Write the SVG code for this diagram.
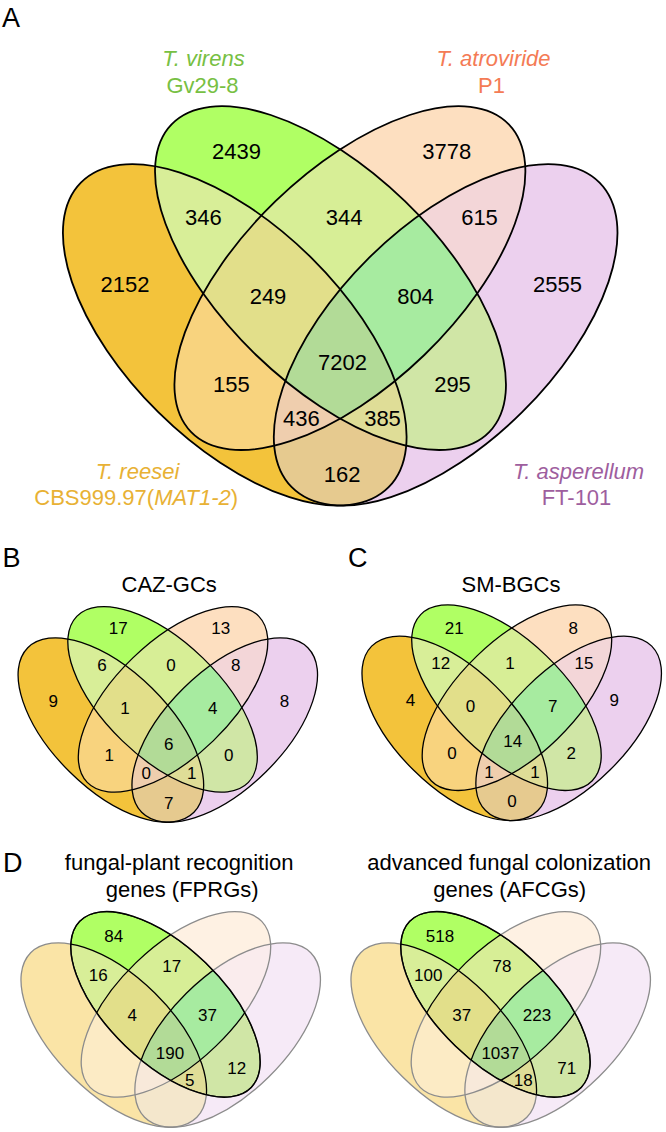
<svg xmlns="http://www.w3.org/2000/svg" width="666" height="1132" viewBox="0 0 666 1132">
<style>
text { font-family: "Liberation Sans", Arial, sans-serif; fill: #000; }
.lbl { font-size: 27px; }
.na { font-size: 22px; text-anchor: middle; }
.nb { font-size: 17px; text-anchor: middle; }
.ttl { font-size: 22px; text-anchor: middle; }
.sp { font-size: 22px; text-anchor: middle; }
.it { font-style: italic; }
</style>
<defs>
  <ellipse id="e1" cx="234.75" cy="334.9" rx="216.5" ry="108.7" transform="rotate(44.7 234.75 334.9)"/>
  <ellipse id="e2" cx="330.5" cy="278.1" rx="221.1" ry="107" transform="rotate(44.05 330.5 278.1)"/>
  <ellipse id="e3" cx="349.9" cy="278.1" rx="221.1" ry="107" transform="rotate(-44.05 349.9 278.1)"/>
  <ellipse id="e4" cx="445.65" cy="334.9" rx="216.5" ry="108.7" transform="rotate(-44.7 445.65 334.9)"/>
  <clipPath id="c1"><use href="#e1"/></clipPath>
  <clipPath id="c2"><use href="#e2"/></clipPath>
  <clipPath id="c3"><use href="#e3"/></clipPath>
  <clipPath id="c4"><use href="#e4"/></clipPath>
  <g id="vfill">
    <use href="#e1" fill="#F3C33B"/>
    <use href="#e2" fill="#B0FF64"/>
    <use href="#e3" fill="#FDDFC0"/>
    <use href="#e4" fill="#ECD0EE"/>
    <use href="#e2" fill="#D8EE98" clip-path="url(#c1)"/>
    <use href="#e3" fill="#F8D37E" clip-path="url(#c1)"/>
    <use href="#e4" fill="#E6CA8F" clip-path="url(#c1)"/>
    <use href="#e3" fill="#D7EE96" clip-path="url(#c2)"/>
    <use href="#e4" fill="#D0E6A6" clip-path="url(#c2)"/>
    <use href="#e4" fill="#F3D6D8" clip-path="url(#c3)"/>
    <g clip-path="url(#c1)"><use href="#e3" fill="#E2DF8A" clip-path="url(#c2)"/></g>
    <g clip-path="url(#c1)"><use href="#e4" fill="#DFDD97" clip-path="url(#c2)"/></g>
    <g clip-path="url(#c1)"><use href="#e4" fill="#EFCEAE" clip-path="url(#c3)"/></g>
    <g clip-path="url(#c2)"><use href="#e4" fill="#A7EBA0" clip-path="url(#c3)"/></g>
    <g clip-path="url(#c1)"><g clip-path="url(#c2)"><use href="#e4" fill="#B2DB97" clip-path="url(#c3)"/></g></g>
  </g>
  <g id="vline" fill="none" stroke="#000">
    <use href="#e1"/>
    <use href="#e2"/>
    <use href="#e3"/>
    <use href="#e4"/>
  </g>
  <mask id="outE2" maskUnits="userSpaceOnUse" x="40" y="80" width="600" height="450">
    <rect x="40" y="80" width="600" height="450" fill="#fff"/>
    <use href="#e2" fill="#000"/>
  </mask>
</defs>

<g id="panel-A">
  <use href="#vfill"/>
  <use href="#vline" stroke-width="1.8"/>
</g>
<g id="panel-B" transform="translate(-15.9,549.2) scale(0.54)">
  <use href="#vfill"/>
  <use href="#vline" stroke-width="2.4"/>
</g>
<g id="panel-C" transform="translate(328,547.5) scale(0.54)">
  <use href="#vfill"/>
  <use href="#vline" stroke-width="2.4"/>
</g>
<g id="panel-D1" transform="translate(-13,854.2) scale(0.54)">
  <use href="#vfill"/>
  <use href="#vline" stroke-width="2.4"/>
  <rect x="40" y="80" width="600" height="450" fill="#fff" fill-opacity="0.55" mask="url(#outE2)"/>
  <use href="#e2" fill="none" stroke="#000" stroke-width="2.6"/>
</g>
<g id="panel-D2" transform="translate(317,854.2) scale(0.54)">
  <use href="#vfill"/>
  <use href="#vline" stroke-width="2.4"/>
  <rect x="40" y="80" width="600" height="450" fill="#fff" fill-opacity="0.55" mask="url(#outE2)"/>
  <use href="#e2" fill="none" stroke="#000" stroke-width="2.6"/>
</g>

<g id="labels">
  <text class="lbl" x="2" y="27">A</text>
  <text class="lbl" x="2.5" y="566.7">B</text>
  <text class="lbl" x="348" y="566.7">C</text>
  <text class="lbl" x="3" y="871.7">D</text>

  <text class="sp it" x="203.5" y="66" style="fill:#77C043">T. virens</text>
  <text class="sp" x="202.5" y="93.3" style="fill:#77C043">Gv29-8</text>
  <text class="sp it" x="493.5" y="66" style="fill:#F47B55">T. atroviride</text>
  <text class="sp" x="491.5" y="93.3" style="fill:#F47B55">P1</text>
  <text class="sp it" x="137.5" y="479" style="fill:#E8B134">T. reesei</text>
  <text class="sp" x="136.2" y="505" style="fill:#E8B134">CBS999.97(<tspan class="it">MAT1-2</tspan>)</text>
  <text class="sp it" x="578.5" y="479" style="fill:#9E5E9E">T. asperellum</text>
  <text class="sp" x="576.5" y="505" style="fill:#9E5E9E">FT-101</text>

  <text class="ttl" x="169.2" y="591.7">CAZ-GCs</text>
  <text class="ttl" x="511" y="591.7">SM-BGCs</text>
  <text class="ttl" x="179.2" y="870">fungal-plant recognition</text>
  <text class="ttl" x="182.2" y="897">genes (FPRGs)</text>
  <text class="ttl" x="509.2" y="870">advanced fungal colonization</text>
  <text class="ttl" x="509.7" y="897">genes (AFCGs)</text>
</g>

<g id="counts-A">
  <text class="na" x="236.5" y="159.3">2439</text>
  <text class="na" x="446.7" y="159.3">3778</text>
  <text class="na" x="203.3" y="225">346</text>
  <text class="na" x="344.2" y="225">344</text>
  <text class="na" x="479.5" y="225">615</text>
  <text class="na" x="125" y="292">2152</text>
  <text class="na" x="557.5" y="292">2555</text>
  <text class="na" x="268" y="304">249</text>
  <text class="na" x="415.5" y="304">804</text>
  <text class="na" x="342.5" y="370.3">7202</text>
  <text class="na" x="231.3" y="391.7">155</text>
  <text class="na" x="452.5" y="391.7">295</text>
  <text class="na" x="301.3" y="426.3">436</text>
  <text class="na" x="382.5" y="426.3">385</text>
  <text class="na" x="342.2" y="481.7">162</text>
</g>

<g id="counts-B">
  <text class="nb" x="118.3" y="634">17</text>
  <text class="nb" x="220.8" y="634">13</text>
  <text class="nb" x="102" y="670.7">6</text>
  <text class="nb" x="171" y="670.7">0</text>
  <text class="nb" x="235.8" y="670.7">8</text>
  <text class="nb" x="53.3" y="707.3">9</text>
  <text class="nb" x="284.5" y="707.3">8</text>
  <text class="nb" x="125" y="714">1</text>
  <text class="nb" x="212.8" y="714">4</text>
  <text class="nb" x="168.8" y="750">6</text>
  <text class="nb" x="109.3" y="760.7">1</text>
  <text class="nb" x="228.8" y="760.7">0</text>
  <text class="nb" x="146.2" y="779.3">0</text>
  <text class="nb" x="191.7" y="779.3">1</text>
  <text class="nb" x="168.8" y="809.3">7</text>
</g>

<g id="counts-C">
  <text class="nb" x="454.2" y="634">21</text>
  <text class="nb" x="573.2" y="634">8</text>
  <text class="nb" x="440.8" y="669.3">12</text>
  <text class="nb" x="510" y="669.3">1</text>
  <text class="nb" x="584" y="669.3">15</text>
  <text class="nb" x="410.5" y="706">4</text>
  <text class="nb" x="614.2" y="706">9</text>
  <text class="nb" x="470.5" y="711.7">0</text>
  <text class="nb" x="552.8" y="711.7">7</text>
  <text class="nb" x="512.8" y="747.3">14</text>
  <text class="nb" x="452" y="759.3">0</text>
  <text class="nb" x="571.3" y="759.3">2</text>
  <text class="nb" x="489" y="778.3">1</text>
  <text class="nb" x="535" y="778.3">1</text>
  <text class="nb" x="512" y="807.3">0</text>
</g>

<g id="counts-D1">
  <text class="nb" x="113.8" y="941.7">84</text>
  <text class="nb" x="98.3" y="980.7">16</text>
  <text class="nb" x="171.7" y="972.3">17</text>
  <text class="nb" x="132.2" y="1021">4</text>
  <text class="nb" x="207.5" y="1021">37</text>
  <text class="nb" x="170" y="1059">190</text>
  <text class="nb" x="189.7" y="1086">5</text>
  <text class="nb" x="236.7" y="1074">12</text>
</g>

<g id="counts-D2">
  <text class="nb" x="440" y="941.7">518</text>
  <text class="nb" x="428.3" y="980.7">100</text>
  <text class="nb" x="502" y="972.3">78</text>
  <text class="nb" x="461.7" y="1021">37</text>
  <text class="nb" x="537" y="1021">223</text>
  <text class="nb" x="500.3" y="1059">1037</text>
  <text class="nb" x="523.3" y="1086">18</text>
  <text class="nb" x="566.7" y="1074">71</text>
</g>
</svg>
